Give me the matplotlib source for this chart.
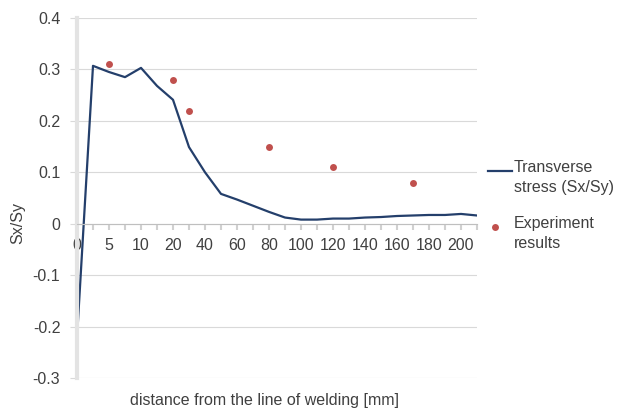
import matplotlib.pyplot as plt
from matplotlib.lines import Line2D

plt.rcParams['font.family'] = ['Liberation Sans', 'DejaVu Sans']

# category axis (Excel-style line chart), distance in mm
categories = [0, 2.5, 5, 7.5, 10, 15, 20, 30, 40, 50, 60, 70, 80, 90, 100,
              110, 120, 130, 140, 150, 160, 170, 180, 190, 200, 210]
stress = [-0.222, 0.307, 0.295, 0.285, 0.303, 0.268, 0.241, 0.149, 0.100,
          0.058, 0.047, 0.035, 0.023, 0.012, 0.008, 0.008, 0.010, 0.010,
          0.012, 0.013, 0.015, 0.016, 0.017, 0.017, 0.019, 0.016]

exp_x = [5, 20, 30, 80, 120, 170]
exp_y = [0.31, 0.28, 0.22, 0.15, 0.11, 0.08]

yticks = [-0.3, -0.2, -0.1, 0, 0.1, 0.2, 0.3, 0.4]

line_color = '#243f6b'
dot_color = '#c0504d'
txt = '#404040'
fs = 11.5

idx = list(range(len(categories)))
exp_idx = [categories.index(v) for v in exp_x]

fig = plt.figure(figsize=(6.19, 4.09), dpi=100)
ax = fig.add_axes([77 / 619, 1 - 378 / 409, 400 / 619, 360 / 409])

ax.plot(idx, stress, color=line_color, lw=1.6)
ax.plot(exp_idx, exp_y, 'o', color=dot_color, ms=5, mec='none')

ax.set_xlim(0, len(categories) - 1)
ax.set_ylim(-0.3, 0.4)
ax.set_yticks(yticks)
ax.set_yticklabels([f'{v:g}' for v in yticks])
ax.grid(axis='y', color='#d9d9d9', lw=0.8)
ax.set_axisbelow(True)

ax.set_xticks(idx)
ax.set_xticklabels([f'{c:g}' if i % 2 == 0 and i < 25 else '' for i, c in enumerate(categories)])

for s in ['top', 'right']:
    ax.spines[s].set_visible(False)
ax.spines['bottom'].set_position(('data', 0))
ax.spines['bottom'].set_color('#bfbfbf')
ax.spines['left'].set_color('#e3e3e3')
ax.spines['left'].set_linewidth(3)

ax.tick_params(axis='x', length=4, color='#d0d0d0', width=1.5, pad=6,
               labelsize=fs, labelcolor=txt)
ax.tick_params(axis='y', length=5, color='#d9d9d9', pad=7,
               labelsize=fs, labelcolor=txt)

fig.text(265 / 619, 1 - 400 / 409, 'distance from the line of welding [mm]',
         ha='center', va='center', fontsize=fs, color=txt)
fig.text(18 / 619, 1 - 223 / 409, 'Sx/Sy', rotation=90, ha='center',
         va='center', fontsize=fs, color=txt)

# legend drawn beside the plot area
fig.add_artist(Line2D([488 / 619, 512 / 619], [1 - 171 / 409] * 2,
                      color=line_color, lw=1.6))
fig.text(514 / 619, 1 - 160 / 409, 'Transverse\nstress (Sx/Sy)', ha='left',
         va='top', fontsize=fs, color=txt, linespacing=1.45)
fig.add_artist(Line2D([495 / 619], [1 - 227 / 409], marker='o', ms=5,
                      color=dot_color, mec='none', ls='none'))
fig.text(514 / 619, 1 - 216 / 409, 'Experiment\nresults', ha='left',
         va='top', fontsize=fs, color=txt, linespacing=1.45)

fig.savefig('out.png', dpi=100)
